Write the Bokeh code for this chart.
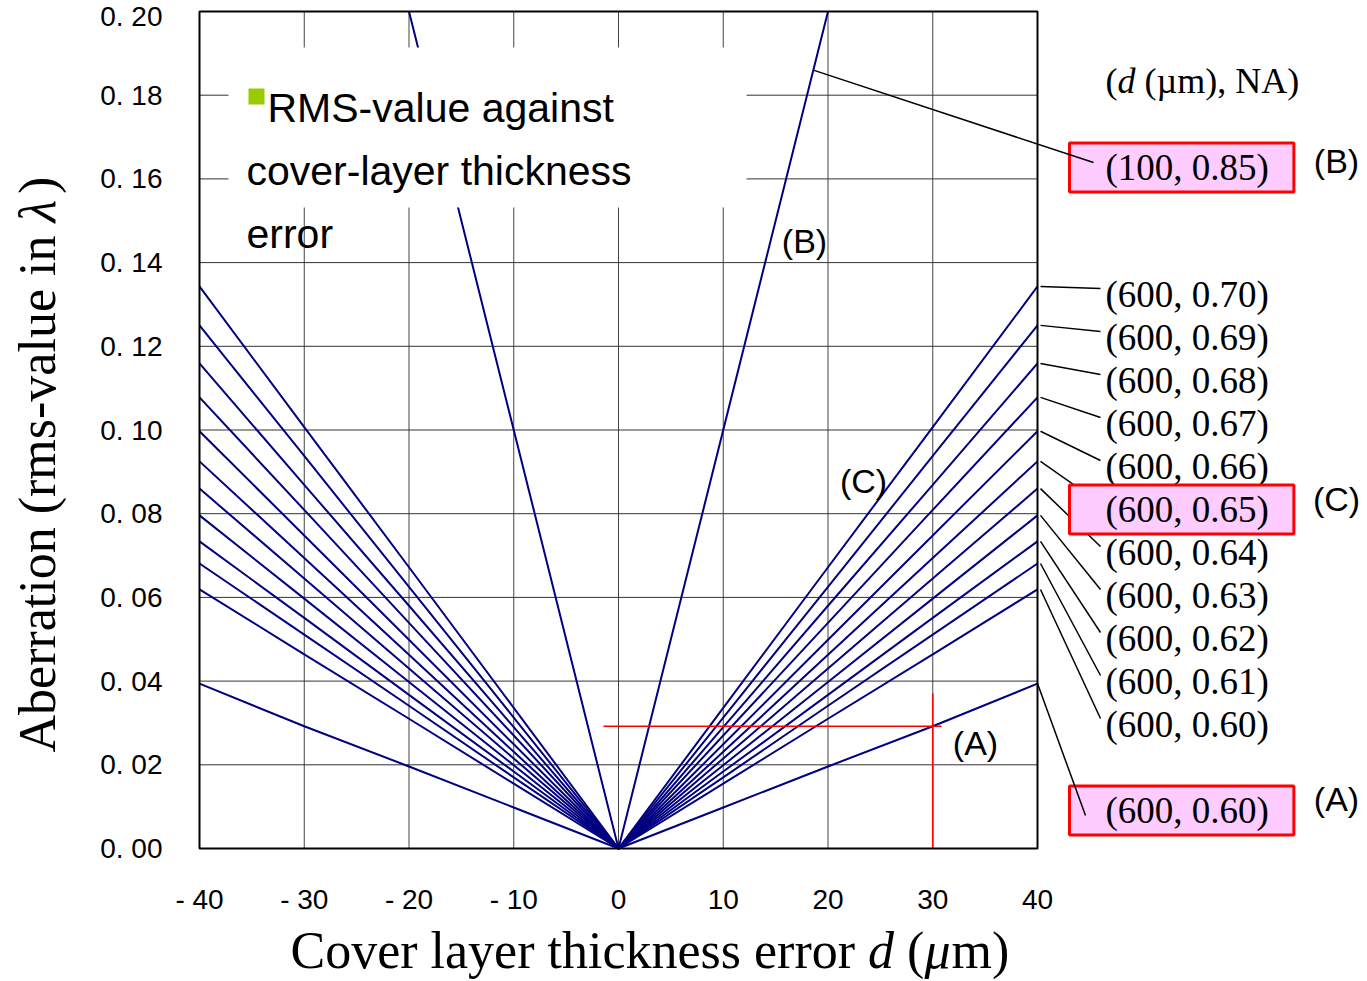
import math
from bokeh.plotting import figure
from bokeh.models import (Label, Arrow, FixedTicker, Range1d, LinearAxis,
                          CustomJSTickFormatter)
from bokeh.embed import file_html
from bokeh.resources import INLINE

# ---------------------------------------------------------------- data
thickness_error = [-40, -30, -20, -10, 0, 10, 20, 30, 40]          # d (um)
x_ticks = [-40, -30, -20, -10, 0, 10, 20, 30, 40]
y_ticks = [0.0, 0.02, 0.04, 0.06, 0.08, 0.10, 0.12, 0.14, 0.16, 0.18, 0.20]

# RMS wavefront aberration (lambda), 600 um cover layer, NA 0.60 ... 0.70
rms_na060 = [0.0619, 0.0464, 0.0310, 0.0155, 0.0, 0.0155, 0.0310, 0.0464, 0.0619]
rms_na061 = [0.0681, 0.0511, 0.0341, 0.0170, 0.0, 0.0170, 0.0341, 0.0511, 0.0681]
rms_na062 = [0.0734, 0.0551, 0.0367, 0.0184, 0.0, 0.0184, 0.0367, 0.0551, 0.0734]
rms_na063 = [0.0796, 0.0597, 0.0398, 0.0199, 0.0, 0.0199, 0.0398, 0.0597, 0.0796]
rms_na064 = [0.0860, 0.0645, 0.0430, 0.0215, 0.0, 0.0215, 0.0430, 0.0645, 0.0860]
rms_na065 = [0.0925, 0.0694, 0.0463, 0.0231, 0.0, 0.0231, 0.0463, 0.0694, 0.0925]
rms_na066 = [0.0997, 0.0748, 0.0499, 0.0249, 0.0, 0.0249, 0.0499, 0.0748, 0.0997]
rms_na067 = [0.1078, 0.0809, 0.0539, 0.0270, 0.0, 0.0270, 0.0539, 0.0809, 0.1078]
rms_na068 = [0.1159, 0.0869, 0.0580, 0.0290, 0.0, 0.0290, 0.0580, 0.0869, 0.1159]
rms_na069 = [0.1250, 0.0938, 0.0625, 0.0313, 0.0, 0.0313, 0.0625, 0.0938, 0.1250]
rms_na070 = [0.1343, 0.1007, 0.0672, 0.0336, 0.0, 0.0336, 0.0672, 0.1007, 0.1343]

# curve (A): reference 600 um / NA 0.60
rms_A = [0.0394, 0.0292, 0.0196, 0.0098, 0.0, 0.0098, 0.0196, 0.0292, 0.0394]

# curve (B): 100 um cover layer, NA 0.85
thickness_B = [-20, -10, 0, 10, 20]
rms_B = [0.200, 0.100, 0.0, 0.100, 0.200]

# marked operating point on curve (A)
mark_d = 30
mark_rms = 0.0292

na_labels = ["(600, 0.70)", "(600, 0.69)", "(600, 0.68)", "(600, 0.67)",
             "(600, 0.66)", "(600, 0.65)", "(600, 0.64)", "(600, 0.63)",
             "(600, 0.62)", "(600, 0.61)", "(600, 0.60)"]
na_curves = [rms_na070, rms_na069, rms_na068, rms_na067, rms_na066, rms_na065,
             rms_na064, rms_na063, rms_na062, rms_na061, rms_na060]

# ---------------------------------------------------------------- layout
W, H = 1367, 981
FL, FR, FT, FB = 199, 1037, 11, 848          # plot box edges on the page
XMIN, XMAX, YMIN, YMAX = -40, 40, 0.0, 0.20


def ux(px):
    """page x pixel -> data x"""
    return XMIN + (px - FL) * (XMAX - XMIN) / (FR - FL)


def uy(py):
    """page y pixel -> data y"""
    return YMIN + (FB - py) * (YMAX - YMIN) / (FB - FT)


SERIF = "Liberation Serif"
SANS = "Liberation Sans"
NAVY = "#000080"

# the canvas is one big frame so that the side notes are not clipped
p = figure(width=W, height=H, output_backend="svg", toolbar_location=None,
           x_range=Range1d(ux(0), ux(W)), y_range=Range1d(uy(H), uy(0)),
           x_axis_location=None, y_axis_location=None,
           min_border=0, background_fill_color="white",
           border_fill_color="white")
p.outline_line_color = None
for g in p.grid:
    g.visible = False

# tick-label axes pinned to the plot box edges
xa = LinearAxis(fixed_location=YMIN, bounds=(XMIN, XMAX),
                ticker=FixedTicker(ticks=x_ticks),
                formatter=CustomJSTickFormatter(
                    code="return tick < 0 ? '- ' + Math.abs(tick) : String(tick);"))
ya = LinearAxis(fixed_location=XMIN, bounds=(YMIN, YMAX),
                ticker=FixedTicker(ticks=y_ticks),
                formatter=CustomJSTickFormatter(
                    code="return tick.toFixed(2).replace('.', '. ');"))
for ax in (xa, ya):
    ax.axis_line_color = None
    ax.major_tick_line_color = None
    ax.minor_tick_line_color = None
    ax.major_label_text_font = SANS
    ax.major_label_text_font_size = "28px"
    ax.major_label_text_color = "black"
xa.major_label_standoff = 29
ya.major_label_standoff = 31
p.add_layout(xa, "below")
p.add_layout(ya, "left")

# grid
gx = x_ticks[1:-1]
gy = y_ticks[1:-1]
p.segment(x0=gx, y0=[YMIN] * len(gx), x1=gx, y1=[YMAX] * len(gx),
          line_color="#444444", line_width=1)
p.segment(x0=[XMIN] * len(gy), y0=gy, x1=[XMAX] * len(gy), y1=gy,
          line_color="#333333", line_width=1)

# curves
p.line(thickness_error, rms_A, line_color=NAVY, line_width=2)
for ys in na_curves:
    p.line(thickness_error, ys, line_color=NAVY, line_width=2)
p.line(thickness_B, rms_B, line_color=NAVY, line_width=2)

# red marker lines through the operating point of (A)
p.segment(x0=[ux(603), mark_d], y0=[mark_rms, uy(693)],
          x1=[ux(941), mark_d], y1=[mark_rms, YMIN],
          line_color="#ff0000", line_width=1.6)

# caption panel inside the plot box
p.quad(left=[ux(228)], right=[ux(746)], top=[uy(47)], bottom=[uy(207)],
       fill_color="white", line_color=None)
p.quad(left=[ux(248)], right=[ux(264)], top=[uy(88)], bottom=[uy(104)],
       fill_color="#99cc00", line_color=None)
for txt, px, py in [("RMS-value against", 267, 107),
                    ("cover-layer thickness", 246, 170),
                    ("error", 246, 233)]:
    p.add_layout(Label(x=ux(px), y=uy(py), text=txt, text_font=SANS,
                       text_font_size="41px", text_color="black",
                       text_align="left", text_baseline="alphabetic"))

# plot box
p.quad(left=[XMIN], right=[XMAX], top=[YMAX], bottom=[YMIN],
       fill_color=None, line_color="black", line_width=2)

# curve tags in the plot
for txt, px, py in [("(B)", 804, 240), ("(C)", 863, 480), ("(A)", 975, 742)]:
    p.add_layout(Label(x=ux(px), y=uy(py), text=txt, text_font=SANS,
                       text_font_size="34px", text_color="black",
                       text_align="center", text_baseline="middle"))


def run_of_text(parts, x0, y0, size, vertical=False):
    """Place consecutive text pieces (text, italic, advance in em);
    the advance includes any space that follows a piece."""
    pos = 0.0
    for txt, italic, em in parts:
        if vertical:
            lab = Label(x=ux(x0), y=uy(y0 - pos), angle=math.pi / 2)
        else:
            lab = Label(x=ux(x0 + pos), y=uy(y0))
        lab.text = txt
        lab.text_font = SERIF
        lab.text_font_size = f"{size}px"
        lab.text_font_style = "italic" if italic else "normal"
        lab.text_color = "black"
        lab.text_align = "left"
        lab.text_baseline = "middle"
        p.add_layout(lab)
        pos += em * size


# axis titles
run_of_text([("Cover layer thickness error", False, 11.108),
             ("d", True, 0.75), ("(", False, 0.333),
             ("\u03bc", True, 0.52), ("m)", False, 1.111)],
            290, 950, 52)
run_of_text([("Aberration (rms-value in", False, 10.192),
             ("\u03bb", True, 0.55), (")", False, 0.333)],
            37, 752, 52, vertical=True)

# right-hand key
run_of_text([("(", False, 0.333), ("d", True, 0.75),
             ("(\u00b5m), NA)", False, 4.2)], 1105, 80, 36)

label_y = [294, 337, 380, 423, 466, 509, 552, 595, 638, 681, 724]
x_lead0 = ux(FR + 3)
x_lead1 = ux(1100)
for txt, ys, ly in zip(na_labels, na_curves, label_y):
    p.add_layout(Arrow(x_start=x_lead0, y_start=ys[-1], x_end=x_lead1,
                       y_end=uy(ly - 6), start=None, end=None,
                       line_color="black", line_width=1.5))
    p.add_layout(Label(x=ux(1105), y=uy(ly), text=txt, text_font=SERIF,
                       text_font_size="37px", text_color="black",
                       text_align="left", text_baseline="middle"))

# highlighted keys for (B), (C) and (A)
boxed = [("(100, 0.85)", 167, "(B)", 160),
         ("(600, 0.65)", 509, "(C)", 498),
         ("(600, 0.60)", 810, "(A)", 798)]
for txt, ly, tag, ty in boxed:
    p.add_layout(Label(x=ux(1069), y=uy(ly), text=txt, text_font=SERIF,
                       text_font_size="37px", text_color="black",
                       text_align="left", text_baseline="middle",
                       background_fill_color="#ffccff",
                       border_line_color="#ff0000", border_line_width=3,
                       padding=dict(left=36, right=25, top=4, bottom=4)))
    p.add_layout(Label(x=ux(1336), y=uy(ty), text=tag, text_font=SANS,
                       text_font_size="34px", text_color="black",
                       text_align="center", text_baseline="middle"))

# leaders to the boxed keys
p.add_layout(Arrow(x_start=18.6, y_start=0.186, x_end=ux(1093), y_end=uy(162),
                   start=None, end=None, line_color="black", line_width=1.5))
p.add_layout(Arrow(x_start=XMAX, y_start=rms_A[-1], x_end=ux(1085), y_end=uy(815),
                   start=None, end=None, line_color="black", line_width=1.5))

open("out.html", "w").write(file_html(p, INLINE))
